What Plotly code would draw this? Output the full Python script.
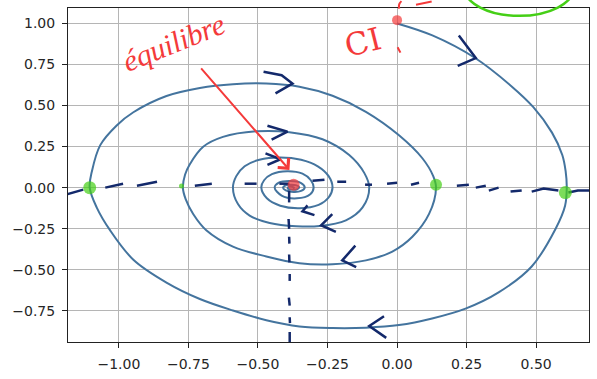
import plotly.graph_objects as go

# ---------------- data: damped spiral ----------------
spiral_x = [
    0.000, 0.127, 0.282, 0.413, 0.490, 0.557, 0.594, 0.606, 0.610,
    0.604, 0.570, 0.484, 0.365, 0.246, 0.126, 0.007, -0.112, -0.232, -0.351, -0.470,
    -0.590, -0.709, -0.829, -0.948, -1.032, -1.080, -1.105,
    -1.097, -1.067, -1.008, -0.948, -0.829, -0.709, -0.590, -0.470, -0.351, -0.232,
    -0.112, 0.007, 0.091, 0.130, 0.140,
    0.115, 0.055, -0.017, -0.112, -0.232, -0.351, -0.470, -0.590, -0.686, -0.733,
    -0.760, -0.770,
    -0.762, -0.746, -0.697, -0.626, -0.506, -0.387, -0.268, -0.172, -0.118, -0.100,
    -0.124, -0.184, -0.279, -0.363, -0.458, -0.530, -0.572, -0.590,
    -0.578, -0.548, -0.495, -0.420, -0.345, -0.285, -0.246, -0.232,
    -0.246, -0.282, -0.350, -0.420, -0.468, -0.488,
    -0.478, -0.450, -0.395, -0.340, -0.310, -0.300,
    -0.312, -0.360, -0.415, -0.440,
    -0.425, -0.385, -0.345, -0.332,
    -0.345, -0.372, -0.400, -0.410,
    -0.398, -0.378, -0.356, -0.352,
    -0.360, -0.378, -0.393, -0.390, -0.378, -0.370, -0.375,
]
spiral_y = [
    1.000, 0.927, 0.788, 0.615, 0.490, 0.335, 0.199, 0.100, 0.000,
    -0.110, -0.250, -0.480, -0.638, -0.737, -0.797, -0.837, -0.853, -0.855, -0.845, -0.807,
    -0.748, -0.678, -0.578, -0.439, -0.259, -0.120, 0.000,
    0.100, 0.259, 0.379, 0.459, 0.558, 0.607, 0.630, 0.634, 0.615, 0.560,
    0.462, 0.319, 0.179, 0.070, 0.000,
    -0.160, -0.299, -0.389, -0.443, -0.466, -0.460, -0.419, -0.359, -0.259, -0.160,
    -0.070, 0.000,
    0.080, 0.140, 0.249, 0.309, 0.343, 0.338, 0.295, 0.199, 0.090, 0.000,
    -0.120, -0.199, -0.234, -0.235, -0.215, -0.170, -0.100, 0.000,
    0.070, 0.130, 0.170, 0.184, 0.170, 0.130, 0.070, 0.000,
    -0.060, -0.105, -0.125, -0.110, -0.065, 0.000,
    0.045, 0.082, 0.100, 0.085, 0.045, 0.000,
    -0.040, -0.065, -0.048, 0.000,
    0.030, 0.040, 0.028, 0.000,
    -0.020, -0.026, -0.016, 0.000,
    0.015, 0.018, 0.010, 0.000,
    -0.010, -0.012, -0.004, 0.005, 0.006, 0.000, -0.003,
]

x_ticks = [-1.0, -0.75, -0.5, -0.25, 0.0, 0.25, 0.5]
y_ticks = [-0.75, -0.5, -0.25, 0.0, 0.25, 0.5, 0.75, 1.0]

# initial condition and equilibrium points
ci_point = (0.0, 1.02)
equilibrium_point = (-0.372, 0.018)

# ---------------- hand-drawn overlay strokes (data coords) ----------------
h_dashes = [
    [(-1.203, -0.048), (-1.128, -0.012)],
    [(-1.049, 0.000), (-0.985, 0.024)],
    [(-0.935, 0.012), (-0.863, 0.036)],
    [(-0.727, 0.012), (-0.666, 0.024)],
    [(-0.548, 0.024), (-0.505, 0.024)],
    [(-0.423, 0.024), (-0.387, 0.024)],
    [(-0.304, 0.042), (-0.261, 0.048)],
    [(-0.215, 0.036), (-0.183, 0.036)],
    [(-0.115, 0.018), (-0.090, 0.018)],
    [(-0.036, 0.024), (0.000, 0.030)],
    [(0.050, 0.018), (0.079, 0.030)],
    [(0.215, 0.012), (0.258, 0.018)],
    [(0.283, 0.000), (0.319, 0.012)],
    [(0.330, -0.018), (0.365, 0.000)],
    [(0.408, -0.024), (0.448, -0.018)],
    [(0.484, -0.024), (0.527, -0.006), (0.580, -0.018)],
    [(0.616, -0.030), (0.650, -0.018), (0.713, -0.018)],
]
v_dashes = [
    [(-0.388, -0.018), (-0.388, -0.090)],
    [(-0.390, -0.191), (-0.388, -0.251)],
    [(-0.388, -0.299), (-0.387, -0.341)],
    [(-0.388, -0.407), (-0.387, -0.455)],
    [(-0.386, -0.526), (-0.386, -0.568)],
    [(-0.389, -0.670), (-0.386, -0.718)],
    [(-0.386, -0.789), (-0.385, -0.825)],
    [(-0.386, -0.879), (-0.386, -0.957)],
]
chevrons = [
    [(-0.480, 0.706), (-0.415, 0.685), (-0.376, 0.634), (-0.437, 0.574)],
    [(-0.466, 0.377), (-0.394, 0.341), (-0.451, 0.293)],
    [(-0.473, 0.209), (-0.419, 0.173), (-0.466, 0.138)],
    [(0.222, 0.927), (0.258, 0.849), (0.283, 0.789), (0.218, 0.742)],
    [(-0.047, -0.783), (-0.100, -0.843), (-0.039, -0.915)],
    [(-0.150, -0.353), (-0.197, -0.443), (-0.147, -0.484)],
    [(-0.233, -0.161), (-0.273, -0.229), (-0.220, -0.269)],
    [(-0.322, -0.108), (-0.340, -0.144), (-0.297, -0.167)],
]
green_blobs_x = [-1.105, -0.775, 0.140, 0.605]
green_blobs_y = [0.000, 0.010, 0.018, -0.030]
green_blobs_size = [13, 5, 12, 13]

NAVY = "#13296b"
RED = "#f43a3a"
GREEN = "#45cf16"
LINE = "#44749e"


def strokes_to_xy(strokes):
    xs, ys = [], []
    for s in strokes:
        for (a, b) in s:
            xs.append(a)
            ys.append(b)
        xs.append(None)
        ys.append(None)
    return xs, ys


fig = go.Figure()

fig.add_trace(go.Scatter(
    x=spiral_x, y=spiral_y, mode="lines",
    line=dict(color=LINE, width=2, shape="spline", smoothing=1.0),
    hoverinfo="skip", showlegend=False,
))

nx, ny = strokes_to_xy(h_dashes + v_dashes + chevrons)
fig.add_trace(go.Scatter(
    x=nx, y=ny, mode="lines",
    line=dict(color=NAVY, width=2.5),
    hoverinfo="skip", showlegend=False,
))

fig.add_trace(go.Scatter(
    x=green_blobs_x, y=green_blobs_y, mode="markers",
    marker=dict(color=GREEN, size=green_blobs_size, line=dict(width=0)),
    hoverinfo="skip", showlegend=False, cliponaxis=False,
))

fig.add_trace(go.Scatter(
    x=[ci_point[0], equilibrium_point[0]], y=[ci_point[1], equilibrium_point[1]],
    mode="markers",
    marker=dict(color=RED, size=[10, 12], line=dict(width=0)),
    hoverinfo="skip", showlegend=False, cliponaxis=False,
))

# small red tick under the CI dot
fig.add_trace(go.Scatter(
    x=[0.002, 0.012], y=[0.855, 0.822], mode="lines",
    line=dict(color=RED, width=2), hoverinfo="skip", showlegend=False,
))

# green ellipse scribble at the top right (extends past the frame)
fig.add_shape(type="circle", xref="paper", yref="paper",
              x0=0.7605, x1=0.971, y0=0.9765, y1=1.1466,
              line=dict(color=GREEN, width=2.5), layer="above")

# red fragments at the very top
fig.add_shape(type="path", xref="paper", yref="paper",
              path="M 0.640 1.0205 Q 0.633 1.010 0.636 0.998",
              line=dict(color=RED, width=2))
fig.add_shape(type="line", xref="paper", yref="paper",
              x0=0.668, y0=1.010, x1=0.698, y1=1.0195,
              line=dict(color=RED, width=2))

# red arrow towards the equilibrium
fig.add_annotation(
    x=-0.387, y=0.108, ax=-0.709, ay=0.736,
    xref="x", yref="y", axref="x", ayref="y",
    text="", showarrow=True, arrowhead=4, arrowsize=1.4,
    arrowwidth=2, arrowcolor=RED,
)

fig.add_annotation(
    x=-0.805, y=0.885, xref="x", yref="y", text="équilibre",
    showarrow=False, textangle=-22,
    font=dict(family="Liberation Serif", size=30, color=RED, style="italic"),
)
fig.add_annotation(
    x=-0.122, y=0.885, xref="x", yref="y", text="CI",
    showarrow=False, textangle=-14,
    font=dict(family="DejaVu Serif", size=31, color=RED),
)

axis_common = dict(
    showgrid=True, gridcolor="#b5b5b5", gridwidth=1,
    zeroline=False, showline=True, mirror=True,
    linecolor="#222222", linewidth=1,
    ticks="outside", ticklen=5, tickwidth=1, tickcolor="#222222",
    tickformat=".2f",
    tickfont=dict(family="DejaVu Sans", size=14, color="#262626"),
)

fig.update_layout(
    width=597, height=379,
    margin=dict(l=68, r=7, t=7, b=31, pad=0),
    paper_bgcolor="white", plot_bgcolor="white",
    showlegend=False,
    xaxis=dict(range=[-1.183, 0.69], tickvals=x_ticks, ticklabelstandoff=4,
               **axis_common),
    yaxis=dict(range=[-0.94, 1.094], tickvals=y_ticks, ticklabelstandoff=4,
               **axis_common),
)

fig.write_html("out.html",
               config={"displayModeBar": False, "staticPlot": True},
               post_script="document.body.style.margin='0px';"
                           "document.body.style.overflow='hidden';")
